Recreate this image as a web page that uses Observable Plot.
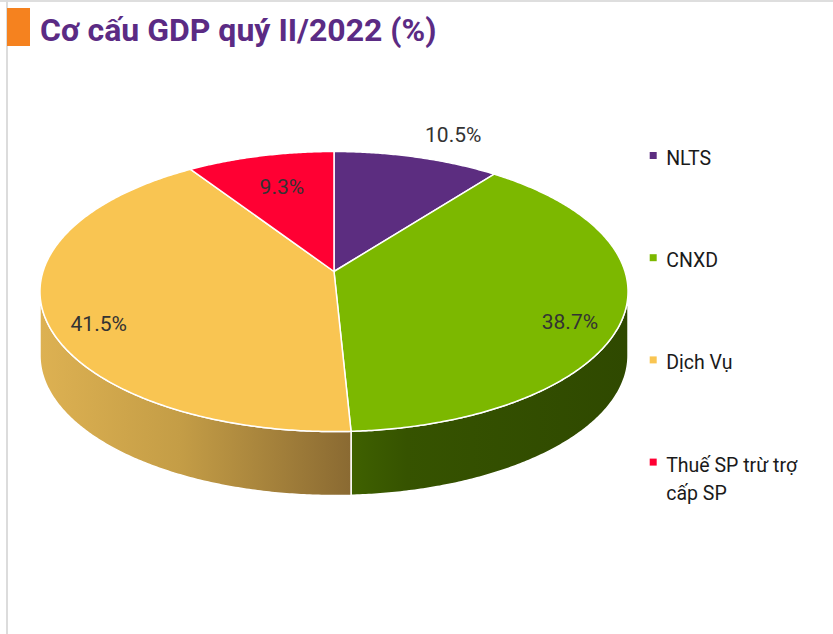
<!DOCTYPE html>
<html>
<head>
<meta charset="utf-8">
<script src="https://cdn.jsdelivr.net/npm/d3@7"></script>
<script src="https://cdn.jsdelivr.net/npm/@observablehq/plot@0.6"></script>
<style>
  html, body { margin: 0; padding: 0; background: #fff; }
  #frame { position: relative; width: 833px; height: 634px; overflow: hidden; }
  #topline { position: absolute; left: 0; top: 0; width: 833px; height: 2px; background: #dedede; }
  #leftbar { position: absolute; left: 6px; top: 0; width: 2px; height: 634px; background: #dcdcdc; }
  #accent { position: absolute; left: 7px; top: 8px; width: 23px; height: 38px; background: #f5821f; }
  #title { position: absolute; left: 40px; top: 11px; font-family: Roboto, "Open Sans", sans-serif;
           font-weight: 700; font-size: 32px; color: #5b2b84; white-space: nowrap; }
  #chart { position: absolute; left: 0; top: 60px; }
</style>
</head>
<body>
<div id="frame">
  <div id="topline"></div>
  <div id="leftbar"></div>
  <div id="accent"></div>
  <div id="title">Cơ cấu GDP quý II/2022 (%)</div>
  <div id="chart"></div>
</div>
<script>
// ---- data ----
const categories = ["NLTS", "CNXD", "Dịch Vụ", "Thuế SP trừ trợ cấp SP"];
const values = [10.5, 38.7, 41.5, 9.3];
const topColors = ["#5c2d80", "#7cb800", "#f9c552", "#ff0033"];

// ---- layout constants (perspective pie) ----
const CX = 333.5, A = 291, Y0 = 271, B = 98.4, K = 0.143, DEPTH = 64;
const proj = (r, a) => {
  const u = r * Math.sin(a), w = r * Math.cos(a), d = 1 + K * w;
  return [CX + A * u / d, (Y0 - B * w) / d];
};
const arcs = d3.pie().sort(null).value(d => d)(values);
const step = Math.PI / 360;

// top faces
const topPts = [];
arcs.forEach((s, i) => {
  const [cx0, cy0] = proj(0, 0);
  topPts.push({i, x: cx0, y: cy0});
  const n = Math.max(2, Math.ceil((s.endAngle - s.startAngle) / step));
  for (let j = 0; j <= n; j++) {
    const a = s.startAngle + (s.endAngle - s.startAngle) * j / n;
    const [x, y] = proj(1, a);
    topPts.push({i, x, y});
  }
});

// side faces (front-visible part)
const aL = Math.acos(-K), aR = 2 * Math.PI - aL;
const sides = [];
arcs.forEach((s, i) => {
  const a0 = Math.max(s.startAngle, aL), a1 = Math.min(s.endAngle, aR);
  if (a1 <= a0) return;
  const n = Math.max(2, Math.ceil((a1 - a0) / step));
  const upper = [], lower = [];
  for (let j = 0; j <= n; j++) {
    const a = a0 + (a1 - a0) * j / n;
    const [x, y] = proj(1, a);
    upper.push({i, x, y});
    lower.push({i, x, y: y + DEPTH});
  }
  sides.push({i, pts: upper.concat(lower.reverse())});
});
const sideFill = ["#000", "url(#gGreen)", "url(#gYellow)", "#000"];

// data labels
const fmt = v => d3.format(".1f")(v) + "%";
const labelData = arcs.map((s, i) => {
  const mid = (s.startAngle + s.endAngle) / 2;
  const w = Math.cos(mid);
  if (i === 0) { // small slice label placed outside the rim
    const [x, y] = proj(1, mid);
    return {x: x + 8, y: y - 15, text: fmt(values[i]), anchor: "start"};
  }
  const r = values[i] < 10 ? 0.68 : 0.82;
  const [x, y] = proj(r, mid);
  return {x, y: y + (w < 0 ? DEPTH * 0.25 : -3), text: fmt(values[i]), anchor: "middle"};
});

// legend
const LFS = 19.5;
const legend = categories.map((c, i) => ({c, i, x: 652.7, y: 155 + i * 102.2}));

const marks = [];
sides.forEach(sd => {
  marks.push(Plot.line(sd.pts, {x: "x", y: "y", curve: "linear-closed", fill: sideFill[sd.i],
    stroke: "white", strokeWidth: 1.5}));
});
marks.push(Plot.line(topPts, {x: "x", y: "y", z: "i", curve: "linear-closed",
  fill: d => topColors[d.i], stroke: "white", strokeWidth: 1.5}));
marks.push(Plot.text(labelData.filter(d => d.anchor === "middle"), {x: "x", y: "y", text: "text",
  fontSize: 21, fill: "#333", textAnchor: "middle"}));
marks.push(Plot.text(labelData.filter(d => d.anchor === "start"), {x: "x", y: "y", text: "text",
  fontSize: 21, fill: "#333", textAnchor: "start", lineAnchor: "bottom"}));
marks.push(Plot.dot(legend, {x: "x", y: "y", symbol: "square", r: 3.95, fill: d => topColors[d.i], stroke: null}));
marks.push(Plot.text(legend, {x: d => d.x + 13, y: d => d.y - 0.355 * LFS - 3.5, text: "c", textAnchor: "start",
  lineAnchor: "top", fontSize: LFS, fill: "#1a1a1a", lineWidth: 8.2, lineHeight: 1.44}));

const svg = Plot.plot({
  width: 833, height: 574,
  margin: 0,
  x: {type: "linear", domain: [0, 833], range: [0, 833], axis: null},
  y: {type: "linear", domain: [60, 634], range: [0, 574], axis: null},
  color: {type: "identity"},
  style: {fontFamily: "Roboto, 'Open Sans', sans-serif", background: "transparent", overflow: "visible"},
  marks
});

const defs = d3.select(svg).insert("defs", ":first-child");
const gy = defs.append("linearGradient").attr("id", "gYellow").attr("x1", 0).attr("x2", 1).attr("y1", 0).attr("y2", 0);
gy.append("stop").attr("offset", "0%").attr("stop-color", "#ddb152");
gy.append("stop").attr("offset", "45%").attr("stop-color", "#c49d46");
gy.append("stop").attr("offset", "100%").attr("stop-color", "#8a6a32");
const gg = defs.append("linearGradient").attr("id", "gGreen").attr("x1", 0).attr("x2", 1).attr("y1", 0).attr("y2", 0);
gg.append("stop").attr("offset", "0%").attr("stop-color", "#3f6100");
gg.append("stop").attr("offset", "20%").attr("stop-color", "#365300");
gg.append("stop").attr("offset", "100%").attr("stop-color", "#2f4900");

document.getElementById("chart").appendChild(svg);
</script>
</body>
</html>
